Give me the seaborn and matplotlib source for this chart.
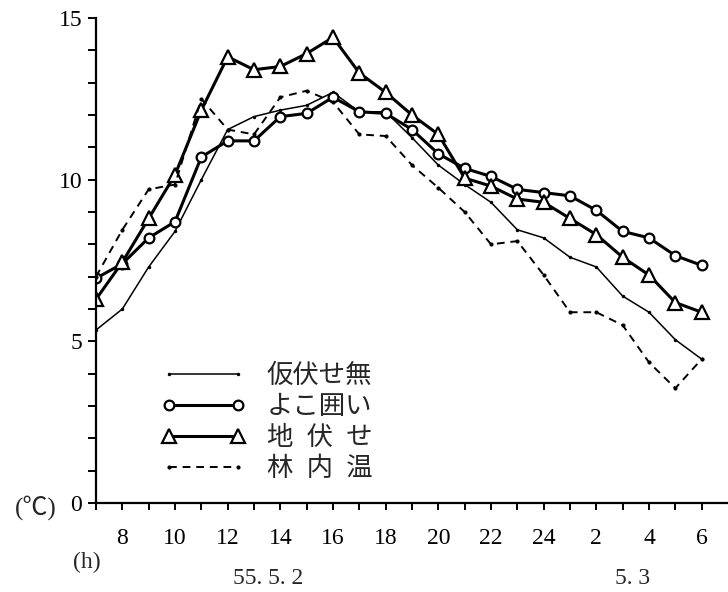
import matplotlib
matplotlib.use("Agg")
import matplotlib.pyplot as plt
import seaborn as sns
import pandas as pd
import numpy as np

hours = list(range(7, 31))
kari = [5.35, 6.0, 7.3, 8.4, 10.0, 11.55, 11.95, 12.15, 12.3, 12.7, 12.1, 12.1,
        11.3, 10.45, 9.85, 9.3, 8.45, 8.2, 7.6, 7.3, 6.4, 5.9, 5.05, 4.45]
yoko = [6.95, 7.4, 8.2, 8.7, 10.7, 11.2, 11.2, 11.95, 12.05, 12.55, 12.1, 12.05,
        11.55, 10.8, 10.35, 10.1, 9.7, 9.6, 9.5, 9.05, 8.4, 8.2, 7.65, 7.35]
jibuse = [6.3, 7.45, 8.8, 10.15, 12.15, 13.8, 13.4, 13.5, 13.9, 14.4, 13.3, 12.7,
          12.0, 11.4, 10.05, 9.8, 9.4, 9.3, 8.8, 8.3, 7.6, 7.05, 6.2, 5.9]
rinnai = [7.0, 8.45, 9.7, 9.85, 12.5, 11.55, 11.4, 12.55, 12.75, 12.4, 11.4, 11.35,
          10.45, 9.75, 9.0, 8.0, 8.1, 7.05, 5.9, 5.9, 5.5, 4.35, 3.55, 4.45]
labels = ["仮伏せ無", "よこ囲い", "地\u2002伏\u2002せ", "林\u2002内\u2002温"]
xtick_pos = list(range(8, 31, 2))
xtick_labels = ["8", "10", "12", "14", "16", "18", "20", "22", "24", "2", "4", "6"]
ytick_pos = [0, 5, 10, 15]
ytick_labels = ["0", "5", "10", "15"]

sns.set_style("ticks")
serif = ["Liberation Serif", "Noto Sans CJK JP"]
cjk = ["Noto Sans CJK JP", "DejaVu Sans"]

fig = plt.figure(figsize=(7.28, 5.92), dpi=100)
ax = fig.add_axes([96 / 728, 89 / 592, 632 / 728, 485 / 592])

df = pd.DataFrame({"h": hours, "kari": kari, "yoko": yoko, "jibuse": jibuse, "rinnai": rinnai})

sns.lineplot(data=df, x="h", y="kari", ax=ax, color="black", lw=1.1,
             marker="o", markersize=2.5, markeredgewidth=0, label=labels[0])
sns.lineplot(data=df, x="h", y="yoko", ax=ax, color="black", lw=2.2,
             marker="o", markersize=7, markerfacecolor="white",
             markeredgecolor="black", markeredgewidth=1.6, label=labels[1])
sns.lineplot(data=df, x="h", y="jibuse", ax=ax, color="black", lw=2.2,
             marker="^", markersize=10, markerfacecolor="white",
             markeredgecolor="black", markeredgewidth=1.6, label=labels[2])
sns.lineplot(data=df, x="h", y="rinnai", ax=ax, color="black", lw=1.4,
             linestyle=(0, (4, 3)), marker="o", markersize=3,
             markeredgewidth=0, label=labels[3])

ax.set_xlim(7, 31)
ax.set_ylim(0, 15)
sns.despine(ax=ax)
for s in ["left", "bottom"]:
    ax.spines[s].set_linewidth(1.6)
    ax.spines[s].set_color("black")

ax.set_xticks(xtick_pos)
ax.set_xticklabels(xtick_labels, fontfamily=serif, fontsize=17)
ax.set_xticks(hours, minor=True)
ax.set_yticks(ytick_pos)
ax.set_yticklabels(ytick_labels, fontfamily=serif, fontsize=17)
ax.set_yticks(range(0, 16), minor=True)
ax.tick_params(axis="x", which="both", direction="out", length=5, width=1.4,
               pad=13, colors="black")
ax.tick_params(axis="y", which="both", direction="out", length=6, width=1.4,
               pad=4, colors="black")
ax.set_xlabel("")
ax.set_ylabel("")

leg = ax.legend(loc="upper left", bbox_to_anchor=(161 / 728, 1 - 362 / 592),
                bbox_transform=fig.transFigure, frameon=False, numpoints=2,
                handlelength=3.2, handletextpad=0.8, labelspacing=0.15,
                borderpad=0, borderaxespad=0, prop={"family": cjk, "size": 19})

fig.text(36 / 728, 1 - 508 / 592, "(℃)", ha="center", va="center",
         fontfamily=serif, fontsize=18)
fig.text(87 / 728, 1 - 562 / 592, "(h)", ha="center", va="center",
         fontfamily=serif, fontsize=17)
fig.text(268 / 728, 1 - 578 / 592, "55. 5. 2", ha="center", va="center",
         fontfamily=serif, fontsize=17)
fig.text(633 / 728, 1 - 578 / 592, "5. 3", ha="center", va="center",
         fontfamily=serif, fontsize=17)

fig.savefig("out.png", dpi=100)
